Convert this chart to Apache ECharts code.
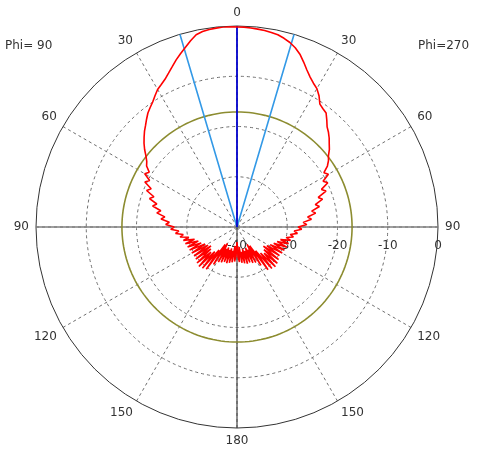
<!DOCTYPE html>
<html>
<head>
<meta charset="utf-8">
<script src="https://cdn.jsdelivr.net/npm/echarts@6/dist/echarts.min.js"></script>
<style>
  html, body { margin: 0; padding: 0; background: #fff; }
  #chart { width: 477px; height: 455px; }
</style>
</head>
<body>
<div id="chart"></div>
<script>
// theta samples (deg), measured from boresight (top) on each side
const thetaDeg = [
  0, 2, 4, 6, 8, 10, 12, 14, 16, 18, 20, 22, 24, 26, 28, 30, 32, 34, 36, 38,
  40, 42, 44, 46, 48, 50, 52, 54, 56, 58, 60, 62, 64, 66, 68, 70, 72, 74, 76, 78,
  80, 82, 84, 86, 88, 90, 92, 94, 96, 98, 100, 102, 104, 106, 108, 110, 112, 114, 116, 118,
  120, 122, 124, 126, 128, 130, 132, 134, 136, 138, 140, 142, 144, 146, 148, 150, 152, 154, 156, 158,
  160, 162, 164, 166, 168, 170, 172, 174, 176, 178, 180
];

// gain (dB), Phi=90 cut, drawn on the left half
const gainPhi90 = [
  -0.2, -0.1, -0.1, -0.2, -0.3, -0.5, -0.9, -1.8, -2.8, -3.7, -4.6, -5.6, -6.5, -7.3, -7.9, -8.4, -9.2, -10.0, -10.6, -11.2,
  -12.0, -12.8, -13.5, -14.3, -15.1, -16.0, -17.0, -17.8, -18.3,
  -19.4, -18.8, -20.3, -19.6, -21.3, -20.6, -22.4, -21.7, -23.4, -22.7, -24.5, -23.8, -25.5, -24.8, -26.5, -25.8,
  -27.5, -26.8, -28.4, -27.7, -29.2, -28.5,
  -30.2, -29.0, -31.2, -29.2, -31.8, -29.4, -32.2, -29.5, -32.8, -29.6, -33.2, -29.7, -33.6, -29.6, -33.2, -29.3,
  -32.8, -29.1, -33.4, -29.3, -34.2, -29.6, -35.8, -31.2, -36.2, -32.1, -35.2, -32.3, -35.6, -32.6, -35.2, -32.5,
  -35.6, -32.7, -35.2, -32.9, -36.2, -33.1, -34.2, -37.0
];

// gain (dB), Phi=270 cut, drawn on the right half
const gainPhi270 = [
  -0.2, -0.2, -0.3, -0.4, -0.5, -0.7, -0.9, -1.3, -1.8, -2.5, -3.4, -4.6, -5.8, -6.8, -7.6, -8.2, -9.2, -10.5, -10.9, -11.2,
  -12.2, -13.2, -13.8, -14.5, -15.3, -16.0, -16.9, -17.5, -18.3,
  -19.6, -19.0, -20.6, -19.9, -21.6, -20.9, -22.8, -22.1, -23.8, -23.1, -24.8, -24.1, -25.8, -25.1, -26.8, -26.1,
  -27.8, -27.1, -28.6, -27.9, -29.3, -28.6,
  -30.0, -29.0, -31.0, -29.2, -31.5, -29.3, -32.0, -29.5, -32.5, -29.6, -33.0, -29.8, -33.5, -29.5, -33.0, -29.2,
  -32.5, -29.0, -33.0, -29.2, -34.0, -29.5, -35.5, -31.0, -36.0, -32.0, -35.0, -32.2, -35.5, -32.5, -35.0, -32.4,
  -35.5, -32.6, -35.0, -32.8, -36.0, -33.0, -34.0, -37.0
];

const levelDb = -17.1;      // olive reference ring
const beamEdgeDeg = 16.5;   // light blue markers
const radiusTicks = [-40, -30, -20, -10, 0];

// angleAxis starts at 3 o'clock and runs clockwise
const rightAngle = t => (t - 90 + 360) % 360;
const leftAngle = t => (270 - t + 360) % 360;

const patternData = [];
for (let i = thetaDeg.length - 1; i >= 0; i--) {
  patternData.push([gainPhi90[i], leftAngle(thetaDeg[i])]);
}
for (let i = 1; i < thetaDeg.length; i++) {
  patternData.push([gainPhi270[i], rightAngle(thetaDeg[i])]);
}

const ringData = [];
thetaDeg.forEach(t => ringData.push([levelDb, rightAngle(t)]));
for (let i = thetaDeg.length - 2; i >= 0; i--) {
  ringData.push([levelDb, leftAngle(thetaDeg[i])]);
}

const rMin = radiusTicks[0];
const rMax = radiusTicks[radiusTicks.length - 1];

const lineSeries = (data, color, width, z) => ({
  type: 'line',
  coordinateSystem: 'polar',
  data: data,
  symbol: 'none',
  silent: true,
  animation: false,
  z: z,
  lineStyle: { color: color, width: width }
});

const chart = echarts.init(document.getElementById('chart'));
chart.setOption({
  animation: false,
  textStyle: { fontFamily: 'DejaVu Sans' },
  polar: { center: [237, 227], radius: 201 },
  angleAxis: {
    type: 'value',
    min: 0,
    max: 360,
    interval: 30,
    startAngle: 0,
    clockwise: true,
    axisLine: { lineStyle: { color: '#333', width: 1 } },
    axisTick: { show: false },
    axisLabel: {
      margin: 7,
      fontSize: 12,
      color: '#333',
      formatter: v => {
        if (v === 360) return '';
        const s = (v + 90) % 360;
        return String(s <= 180 ? s : 360 - s);
      }
    },
    splitLine: { show: true, lineStyle: { color: '#6e6e6e', type: [3, 3], width: 1 } }
  },
  radiusAxis: {
    type: 'value',
    min: rMin,
    max: rMax,
    interval: 10,
    axisLine: { show: false },
    axisTick: { show: false },
    axisLabel: { margin: -25, fontSize: 12, color: '#333' },
    splitLine: {
      show: true,
      lineStyle: { color: ['transparent', '#6e6e6e', '#6e6e6e', '#6e6e6e', 'transparent'], type: [3, 3], width: 1 }
    }
  },
  graphic: [
    { type: 'text', left: 5, top: 40, style: { text: 'Phi= 90', font: '12px DejaVu Sans', fill: '#333' } },
    { type: 'text', left: 418, top: 40, style: { text: 'Phi=270', font: '12px DejaVu Sans', fill: '#333' } }
  ],
  series: [
    lineSeries([[rMax, 0], [rMin, 0], [rMax, 180]], '#808080', 1.5, 2),
    lineSeries([[rMin, 90], [rMax, 90]], '#444', 1.2, 2),
    lineSeries(ringData, '#8c8c30', 1.6, 3),
    lineSeries([[rMax, leftAngle(beamEdgeDeg)], [rMin, 0], [rMax, rightAngle(beamEdgeDeg)]], '#3399e6', 1.6, 4),
    lineSeries([[rMin, 270], [rMax, 270]], '#0000cc', 1.8, 4),
    lineSeries(patternData, '#ff0000', 1.6, 5)
  ]
});
</script>
</body>
</html>
